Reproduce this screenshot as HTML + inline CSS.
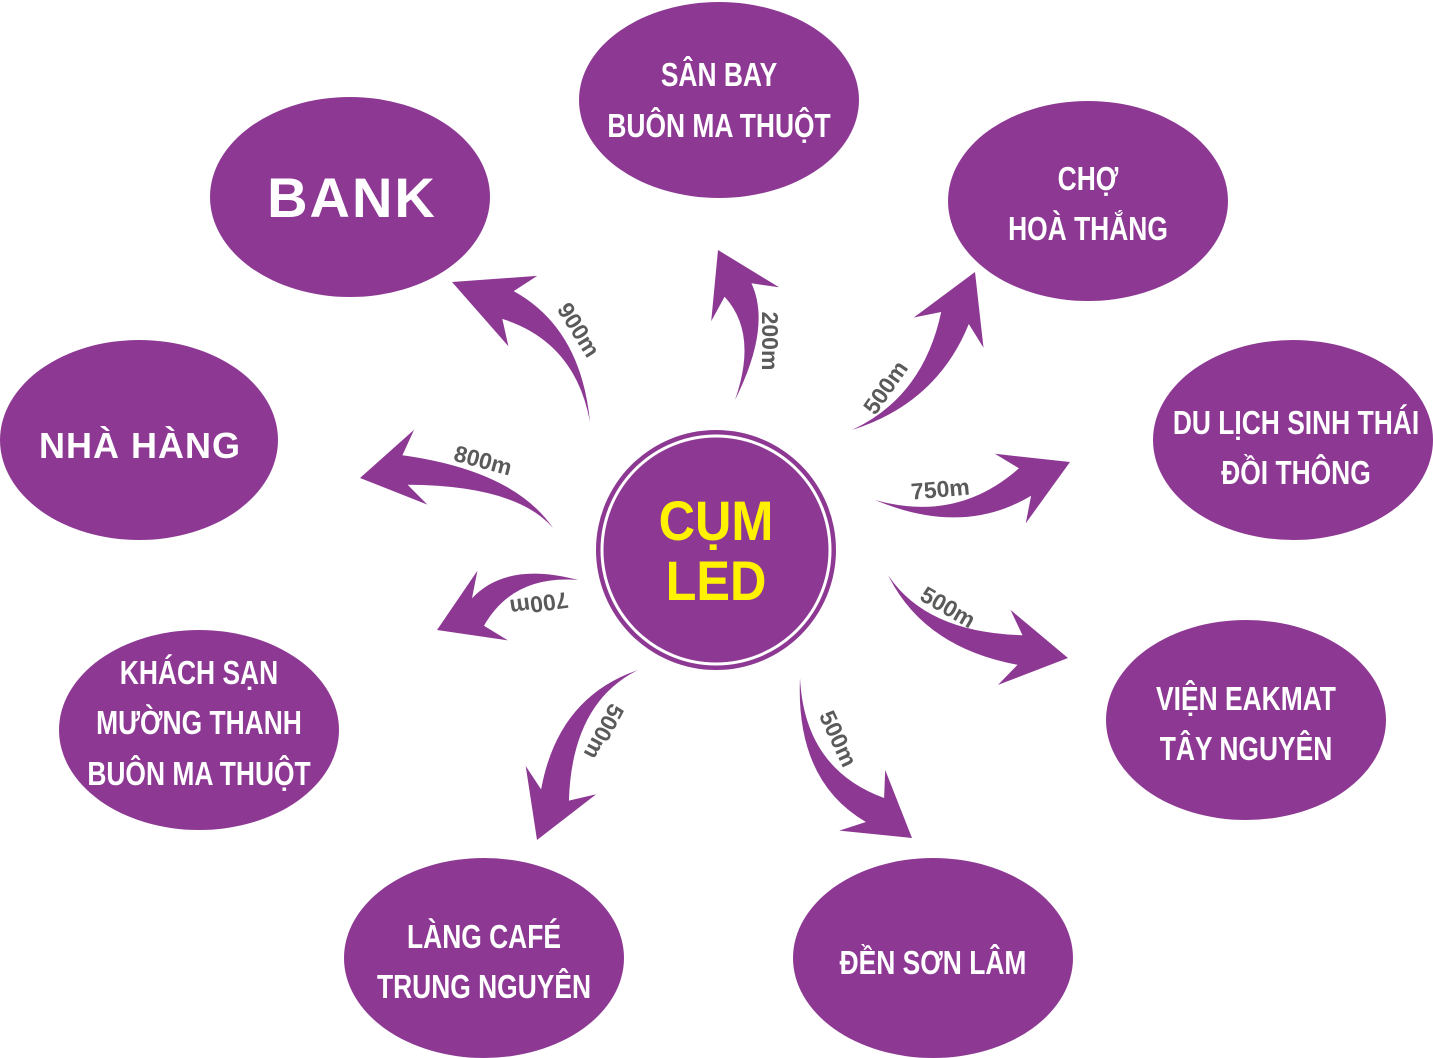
<!DOCTYPE html>
<html><head><meta charset="utf-8">
<style>
html,body{margin:0;padding:0;background:#fff;}
body{width:1433px;height:1058px;overflow:hidden;position:relative;}
svg{position:absolute;left:0;top:0;}
.t{font-family:"Liberation Sans Narrow","Liberation Sans",sans-serif;font-weight:bold;fill:#fff;text-anchor:middle;}
.l{font-family:"Liberation Sans",sans-serif;font-weight:bold;fill:#5a5a5a;font-size:23px;text-anchor:middle;}
</style></head><body>
<svg width="1433" height="1058" viewBox="0 0 1433 1058">
<g fill="#8d3994">
<ellipse cx="719" cy="100" rx="140" ry="98"/>
<ellipse cx="350" cy="197" rx="140" ry="100"/>
<ellipse cx="1088" cy="201" rx="140" ry="100"/>
<ellipse cx="139" cy="440" rx="139" ry="100"/>
<ellipse cx="1293" cy="440" rx="140" ry="100"/>
<ellipse cx="199" cy="730" rx="140" ry="100"/>
<ellipse cx="1246" cy="720" rx="140" ry="100"/>
<ellipse cx="484" cy="958" rx="140" ry="100"/>
<ellipse cx="933" cy="958" rx="140" ry="100"/>
<circle cx="716" cy="550" r="120"/>
</g>
<circle cx="716" cy="550" r="114" fill="none" stroke="#fff" stroke-width="3"/>
<g id="arrows" fill="#8d3994"></g>
<g class="t" font-size="33">
<text x="719" y="86" transform="translate(719 0) scale(0.8 1) translate(-719 0)">SÂN BAY</text>
<text x="719" y="137" transform="translate(719 0) scale(0.8 1) translate(-719 0)">BUÔN MA THUỘT</text>
<text x="1088" y="190" transform="translate(1088 0) scale(0.8 1) translate(-1088 0)">CHỢ</text>
<text x="1088" y="240" transform="translate(1088 0) scale(0.8 1) translate(-1088 0)">HOÀ THẮNG</text>
<text x="1296" y="434" transform="translate(1296 0) scale(0.8 1) translate(-1296 0)">DU LỊCH SINH THÁI</text>
<text x="1296" y="484" transform="translate(1296 0) scale(0.8 1) translate(-1296 0)">ĐỒI THÔNG</text>
<text x="1246" y="710" transform="translate(1246 0) scale(0.8 1) translate(-1246 0)">VIỆN EAKMAT</text>
<text x="1246" y="760" transform="translate(1246 0) scale(0.8 1) translate(-1246 0)">TÂY NGUYÊN</text>
<text x="933" y="974" transform="translate(933 0) scale(0.8 1) translate(-933 0)">ĐỀN SƠN LÂM</text>
<text x="484" y="948" transform="translate(484 0) scale(0.8 1) translate(-484 0)">LÀNG CAFÉ</text>
<text x="484" y="998" transform="translate(484 0) scale(0.8 1) translate(-484 0)">TRUNG NGUYÊN</text>
<text x="199" y="684" transform="translate(199 0) scale(0.8 1) translate(-199 0)">KHÁCH SẠN</text>
<text x="199" y="734" transform="translate(199 0) scale(0.8 1) translate(-199 0)">MƯỜNG THANH</text>
<text x="199" y="785" transform="translate(199 0) scale(0.8 1) translate(-199 0)">BUÔN MA THUỘT</text>
</g>
<text x="352" y="217" font-family="Liberation Sans,sans-serif" font-weight="bold" font-size="56" fill="#fff" text-anchor="middle" letter-spacing="2">BANK</text>
<text x="140" y="458" font-family="Liberation Sans,sans-serif" font-weight="bold" font-size="36" fill="#fff" text-anchor="middle" letter-spacing="1">NHÀ HÀNG</text>
<g font-family="Liberation Sans Narrow,Liberation Sans,sans-serif" font-weight="bold" font-size="56" fill="#fff200" text-anchor="middle">
<text x="716" y="540" transform="translate(716 0) scale(0.9 1) translate(-716 0)">CỤM</text>
<text x="716" y="600" transform="translate(716 0) scale(0.9 1) translate(-716 0)">LED</text>
</g>
<g class="l">
<text transform="translate(572 334) rotate(58)">900m</text>
<text transform="translate(762 341) rotate(90)">200m</text>
<text transform="translate(892 392) rotate(-55)">500m</text>
<text transform="translate(941 497) rotate(-5)">750m</text>
<text transform="translate(944 614) rotate(30)">500m</text>
<text transform="translate(831 742) rotate(65)">500m</text>
<text transform="translate(597 728) rotate(118)">500m</text>
<text transform="translate(538 596) rotate(172)">700m</text>
<text transform="translate(481 468) rotate(15)">800m</text>
</g>
</svg>
<script>
var A=[
[[590,422],[578,335],[508,305],[452,282]],
[[735,400],[765,330],[738,290],[718,250]],
[[852,430],[930,400],[955,318],[975,272]],
[[875,500],[960,530],[1025,482],[1070,462]],
[[888,575],[925,640],[1020,650],[1068,658]],
[[800,678],[800,775],[875,810],[912,838]],
[[638,670],[565,700],[555,795],[537,840]],
[[578,580],[510,568],[478,612],[437,630]],
[[553,528],[515,478],[405,470],[360,478]]];
var g=document.getElementById('arrows'),s='';
A.forEach(function(a){var T=a[0],C=a[1],B=a[2],P=a[3];
var dx=P[0]-B[0],dy=P[1]-B[1],n=Math.hypot(dx,dy);dx/=n;dy/=n;var px=-dy,py=dx;
var w=15,h=38,back=16;
function pt(b,k,m){m=m||0;return (b[0]+px*k-dx*m).toFixed(1)+' '+(b[1]+py*k-dy*m).toFixed(1);}
s+='<path d="M'+T[0]+' '+T[1]+' Q'+pt(C,w*0.5)+' '+pt(B,w)+' L'+pt(B,h,back)+' L'+P[0]+' '+P[1]+' L'+pt(B,-h,back)+' L'+pt(B,-w)+' Q'+pt(C,-w*0.5)+' '+T[0]+' '+T[1]+' Z"/>';});
g.innerHTML=s;
</script>
</body></html>
